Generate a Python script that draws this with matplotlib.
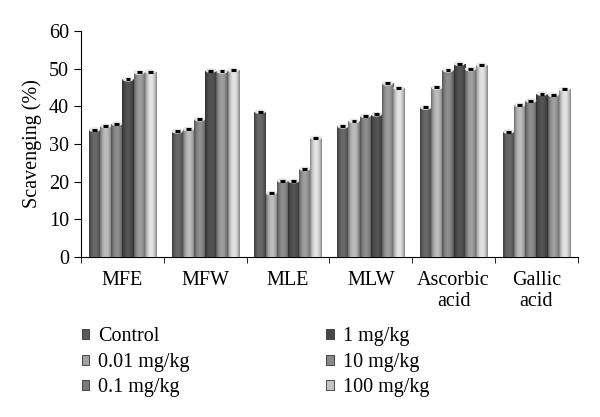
import numpy as np
import matplotlib.pyplot as plt
from matplotlib.patches import Ellipse, Patch

plt.rcParams['font.family'] = ['Liberation Serif', 'DejaVu Serif']

groups = ['MFE', 'MFW', 'MLE', 'MLW', 'Ascorbic\nacid', 'Gallic\nacid']
doses = ['Control', '0.01 mg/kg', '0.1 mg/kg', '1 mg/kg', '10 mg/kg', '100 mg/kg']

control = [33.8, 33.4, 38.6, 34.7, 39.7, 33.3]
d001 = [34.8, 34.0, 17.0, 36.1, 45.0, 40.4]
d01 = [35.4, 36.6, 20.3, 37.5, 49.6, 41.5]
d1 = [47.2, 49.5, 20.2, 37.9, 51.3, 43.4]
d10 = [49.0, 49.3, 23.4, 46.1, 49.9, 43.1]
d100 = [49.2, 49.6, 31.6, 44.9, 51.0, 44.5]
series = [control, d001, d01, d1, d10, d100]

colors = ['#5a5a5a', '#a2a2a2', '#7a7a7a', '#484848', '#888888', '#c4c4c4']

fig = plt.figure(figsize=(6, 4.17), dpi=100)
ax = fig.add_axes([0.135, 0.3837, 0.828, 0.542])

width = 0.135
x = np.arange(len(groups))

# cylinder-like shading across each bar
t = np.linspace(0, 1, 40)
shade = 0.62 + 0.55 * np.sin(np.pi * t) ** 0.7

for j, vals in enumerate(series):
    pos = x + (j - 2.5) * width
    bars = ax.bar(pos, vals, width, color=colors[j], edgecolor='none', zorder=2)
    base = np.array(plt.matplotlib.colors.to_rgb(colors[j]))
    img = np.clip(base[None, :] * shade[:, None], 0, 1)[None, :, :]
    for b, v, p in zip(bars, vals, pos):
        im = ax.imshow(img, extent=(p - width / 2, p + width / 2, 0, v),
                       aspect='auto', zorder=3, interpolation='bilinear')
        im.set_clip_path(b)
        ax.add_patch(Ellipse((p, v), width * 0.85, 0.9, color='#e6e6e6', zorder=4))
        ax.hlines(v, p - width * 0.22, p + width * 0.22, color='black', lw=2.2, zorder=5)

fs = 14.5
ax.set_xlim(-0.5, 5.5)
ax.set_ylim(0, 60)
ax.set_yticks(range(0, 61, 10))
ax.set_xticks(x)
ax.set_xticklabels(groups, linespacing=1.15)
ax.set_xticks(np.arange(-0.5, 6.0, 1.0), minor=True)
ax.tick_params(axis='x', which='major', length=0, pad=10, labelsize=fs)
ax.tick_params(axis='x', which='minor', length=4, direction='out')
ax.tick_params(axis='y', length=5, direction='out', labelsize=fs)
ax.set_ylabel('Scavenging (%)', fontsize=fs, labelpad=5)
for s in ['top', 'right']:
    ax.spines[s].set_visible(False)

handles = [Patch(facecolor=c, edgecolor='#333333', linewidth=0.6) for c in colors]
fig.legend(handles, doses, ncol=2, loc='upper left', bbox_to_anchor=(0.106, 0.259),
           frameon=False, fontsize=fs, handlelength=0.38, handleheight=0.38,
           handletextpad=0.45, columnspacing=6.75, labelspacing=0.33)

fig.savefig('out.png', dpi=100)
